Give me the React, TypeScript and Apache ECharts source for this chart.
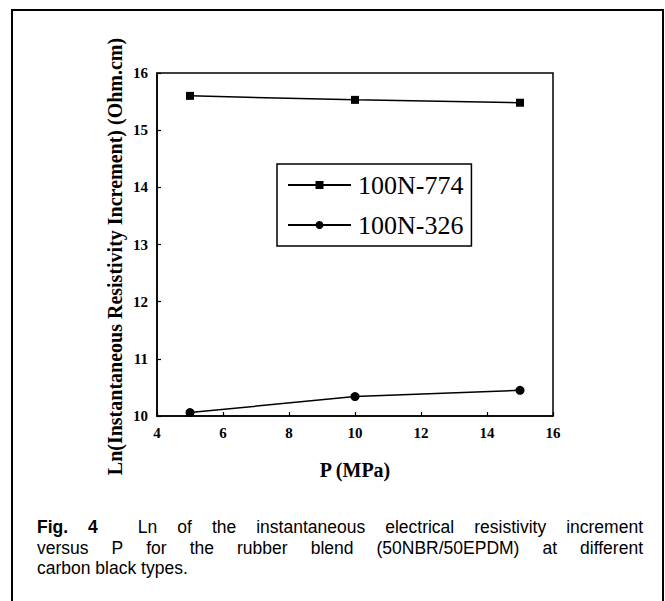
import React, { useEffect, useRef } from "react";
import * as echarts from "echarts";

const pressures = [5, 10, 15];
const seriesNames = ["100N-774", "100N-326"];
const values774 = [15.6, 15.53, 15.48];
const values326 = [10.06, 10.34, 10.45];
const xTicks = { min: 4, max: 16, interval: 2 };
const yTicks = { min: 10, max: 16, interval: 1 };
const yTitle = "Ln(Instantaneous Resistivity Increment) (Ohm.cm)";
const xTitle = "P (MPa)";
const captionLines: { text: string; bold?: boolean }[][] = [
  [
    { text: "Fig.", bold: true },
    { text: "4", bold: true },
    { text: "" },
    ..."Ln of the instantaneous electrical resistivity increment".split(" ").map((t) => ({ text: t })),
  ],
  "versus P for the rubber blend (50NBR/50EPDM) at different".split(" ").map((t) => ({ text: t })),
  "carbon black types.".split(" ").map((t) => ({ text: t })),
];

const CAP_FONT = "Liberation Sans, Arial, sans-serif";
const CAP_SIZE = 17.5;

function measure(text: string, bold: boolean) {
  const c = document.createElement("canvas").getContext("2d")!;
  c.font = `${bold ? "bold " : ""}${CAP_SIZE}px ${CAP_FONT}`;
  return c.measureText(text).width;
}

function buildCaption() {
  const left = 37;
  const right = 643;
  const baselines = [536, 556.5, 577];
  const els: any[] = [];
  captionLines.forEach((words, li) => {
    const justify = li < captionLines.length - 1;
    const widths = words.map((w) => (w.text ? measure(w.text, !!w.bold) : 0));
    const space = measure(" ", false);
    const gaps = words.length - 1;
    const natural = widths.reduce((a, b) => a + b, 0) + gaps * space;
    const extra = justify ? (right - left - natural) / gaps : 0;
    let x = left;
    words.forEach((w, i) => {
      if (w.text) {
        els.push({
          type: "text",
          x,
          y: baselines[li],
          style: {
            text: w.text,
            font: `${w.bold ? "bold " : ""}${CAP_SIZE}px ${CAP_FONT}`,
            fill: "#000",
            verticalAlign: "bottom",
          },
        });
      }
      x += widths[i] + space + extra;
    });
  });
  return els;
}

export default function App() {
  const ref = useRef<HTMLDivElement>(null);
  useEffect(() => {
    const chart = echarts.init(ref.current!, undefined, { renderer: "svg" });
    const serif = "Liberation Serif, Times New Roman, serif";
    chart.setOption({
      animation: false,
      backgroundColor: "#fff",
      grid: {
        left: 157,
        top: 73,
        width: 396,
        height: 343,
        show: true,
        borderColor: "#000",
        borderWidth: 1.5,
        backgroundColor: "transparent",
      },
      xAxis: {
        type: "value",
        min: xTicks.min,
        max: xTicks.max,
        interval: xTicks.interval,
        axisLine: { show: true, lineStyle: { color: "#000", width: 1.5 } },
        axisTick: { show: true, inside: true, length: 4, lineStyle: { color: "#000", width: 1.2 } },
        splitLine: { show: false },
        axisLabel: { color: "#000", fontFamily: serif, fontWeight: "bold", fontSize: 15, margin: 9 },
      },
      yAxis: {
        type: "value",
        min: yTicks.min,
        max: yTicks.max,
        interval: yTicks.interval,
        axisLine: { show: true, lineStyle: { color: "#000", width: 1.5 } },
        axisTick: { show: true, inside: true, length: 4, lineStyle: { color: "#000", width: 1.2 } },
        splitLine: { show: false },
        axisLabel: { color: "#000", fontFamily: serif, fontWeight: "bold", fontSize: 15, margin: 9 },
      },
      legend: {
        orient: "vertical",
        left: 277,
        top: 164,
        padding: [8, 8, 8, 10],
        itemWidth: 63,
        itemHeight: 10,
        itemGap: 14,
        borderColor: "#000",
        borderWidth: 1.5,
        backgroundColor: "#fff",
        textStyle: { color: "#000", fontFamily: serif, fontSize: 26, padding: [0, 0, 0, 2] },
        data: seriesNames,
      },
      series: [
        {
          name: seriesNames[0],
          type: "line",
          data: pressures.map((p, i) => [p, values774[i]]),
          symbol: "rect",
          symbolSize: 8,
          itemStyle: { color: "#000" },
          lineStyle: { color: "#000", width: 1.5 },
        },
        {
          name: seriesNames[1],
          type: "line",
          data: pressures.map((p, i) => [p, values326[i]]),
          symbol: "circle",
          symbolSize: 9,
          itemStyle: { color: "#000" },
          lineStyle: { color: "#000", width: 1.5 },
        },
      ],
      graphic: [
        {
          type: "rect",
          shape: { x: 12, y: 10, width: 651, height: 620 },
          style: { fill: "none", stroke: "#000", lineWidth: 2 },
          silent: true,
        },
        {
          type: "text",
          x: 115,
          y: 256.5,
          rotation: Math.PI / 2,
          style: {
            text: yTitle,
            font: `bold 20px ${serif}`,
            fill: "#000",
            align: "center",
            verticalAlign: "middle",
          },
        },
        {
          type: "text",
          x: 355,
          y: 470,
          style: {
            text: xTitle,
            font: `bold 20px ${serif}`,
            fill: "#000",
            align: "center",
            verticalAlign: "middle",
          },
        },
        ...buildCaption(),
      ],
    });
    return () => chart.dispose();
  }, []);
  return (
    <div
      ref={ref}
      style={{ position: "fixed", left: 0, top: 0, width: 665, height: 601 }}
    />
  );
}
